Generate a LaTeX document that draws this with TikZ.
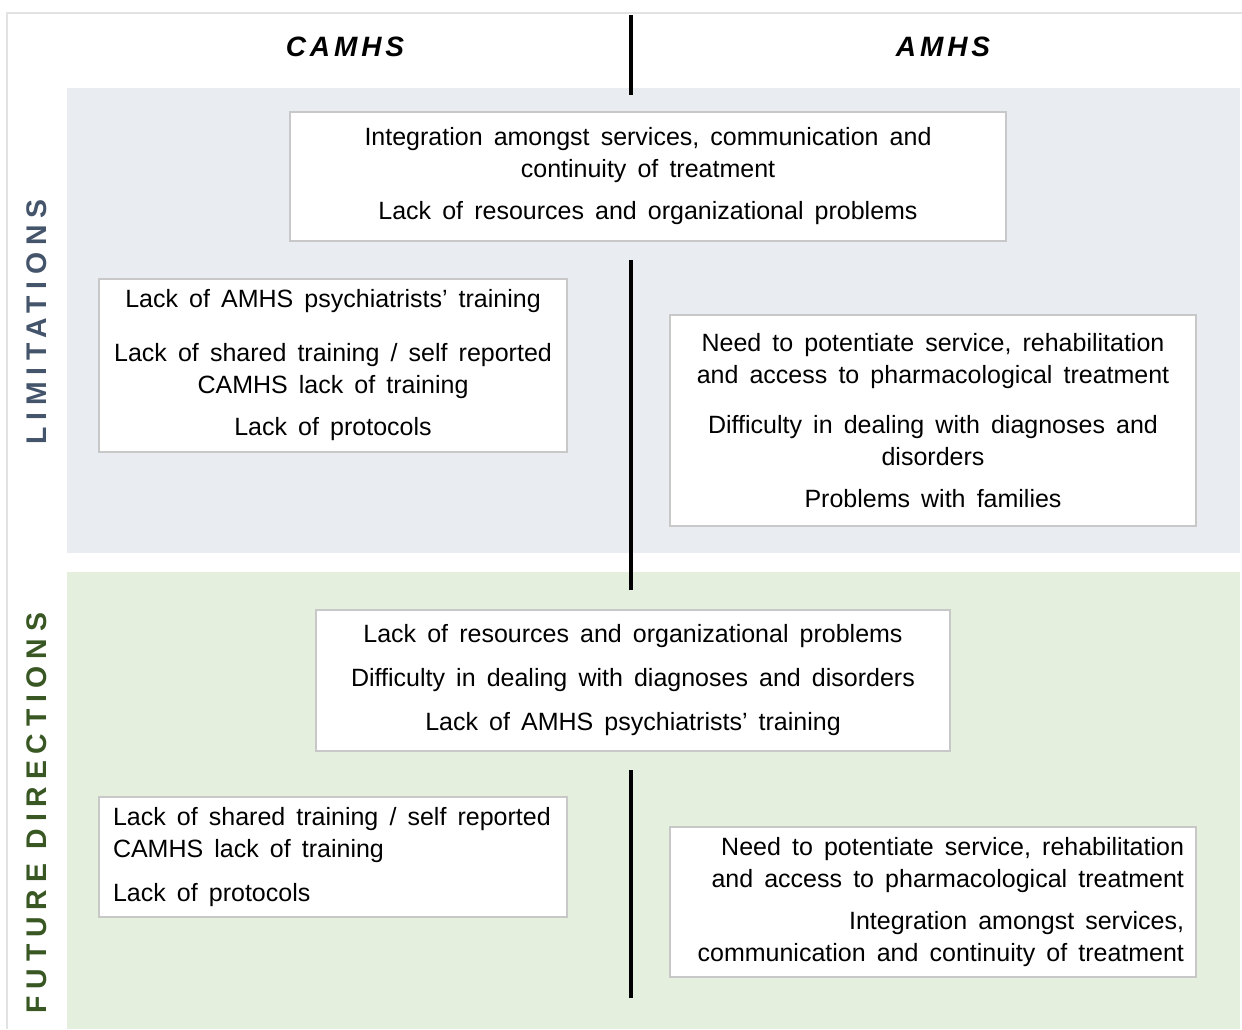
\documentclass[tikz,border=0pt]{standalone}
\usepackage{fontspec}
\setmainfont{Liberation Sans}[WordSpace=1.6]
\newfontfamily\colfont{Liberation Sans}[LetterSpace=14]
\newfontfamily\sidefont{Liberation Sans}[LetterSpace=24]
\usepackage{xcolor}
\definecolor{limblue}{RGB}{233,237,241}
\definecolor{futgreen}{RGB}{228,239,222}
\definecolor{limtext}{RGB}{68,84,106}
\definecolor{futtext}{RGB}{56,87,35}
\definecolor{boxgray}{RGB}{200,200,200}
\definecolor{framegray}{RGB}{226,226,226}

\begin{document}
\begin{tikzpicture}[x=0.5pt, y=-0.5pt,
    itembox/.style={draw=boxgray, line width=1pt, fill=white, inner sep=0pt,
      font=\fontsize{12.5}{16}\selectfont},
    colhead/.style={font=\colfont\fontsize{14}{16}\selectfont\bfseries\itshape},
    sidehead/.style={rotate=90, font=\sidefont\fontsize{14.2}{16}\selectfont\bfseries},
    divider/.style={line width=1.6pt, black}]

    \useasboundingbox (0,0) rectangle (1242,1029);

    % Outer frame (only top and left edges are inside the page)
    \draw[framegray, line width=0.8pt] (7,1029) -- (7,13) -- (1242,13);

    % Row bands
    \fill[limblue] (67,88) rectangle (1240,553);
    \fill[futgreen] (67,572) rectangle (1240,1029);

    % Column headings
    \node[colhead] (camhs) at (345,47) {CAMHS};
    \node[colhead] (amhs) at (943,47) {AMHS};

    % Row headings
    \node[sidehead, text=limtext] (lim) at (37,322) {LIMITATIONS};
    \node[sidehead, text=futtext] (fut) at (37,813) {FUTURE DIRECTIONS};

    % Limitations: shared, CAMHS, AMHS
    \node[itembox, minimum width=358pt, minimum height=64.5pt, align=center] (limboth) at (648,176.5)
        {Integration amongst services, communication and\\continuity of treatment\\[5pt]Lack of resources and organizational problems};
    \node[itembox, minimum width=234pt, minimum height=86.5pt, align=center] (limcamhs) at (333,365.5)
        {Lack of AMHS psychiatrists' training\\[11pt]Lack of shared training / self reported\\CAMHS lack of training\\[5pt]Lack of protocols};
    \node[itembox, minimum width=263pt, minimum height=105.5pt, align=center] (limamhs) at (933,420.5)
        {Need to potentiate service, rehabilitation\\and access to pharmacological treatment\\[9pt]Difficulty in dealing with diagnoses and\\disorders\\[5pt]Problems with families};

    % Future directions: shared, CAMHS, AMHS
    \node[itembox, minimum width=317pt, minimum height=70.5pt, align=center] (futboth) at (633,680.5)
        {Lack of resources and organizational problems\\[6pt]Difficulty in dealing with diagnoses and disorders\\[6pt]Lack of AMHS psychiatrists' training};
    \node[itembox, text width=220pt, inner xsep=7pt, minimum height=60pt, align=flush left] (futcamhs) at (333,857)
        {Lack of shared training / self reported\\CAMHS lack of training\\[6pt]Lack of protocols};
    \node[itembox, text width=251pt, inner xsep=6pt, minimum height=75pt, align=flush right] (futamhs) at (933,902)
        {Need to potentiate service, rehabilitation\\and access to pharmacological treatment\\[5pt]Integration amongst services,\\communication and continuity of treatment};

    % Column dividers
    \coordinate (top1) at (631,15);
    \coordinate (top2) at (631,95);
    \coordinate (mid1) at (631,260);
    \coordinate (mid2) at (631,590);
    \coordinate (low1) at (631,770);
    \coordinate (low2) at (631,998);
    \draw[divider] (top1) -- (top2);
    \draw[divider] (mid1) -- (mid2);
    \draw[divider] (low1) -- (low2);
\end{tikzpicture}
\end{document}
